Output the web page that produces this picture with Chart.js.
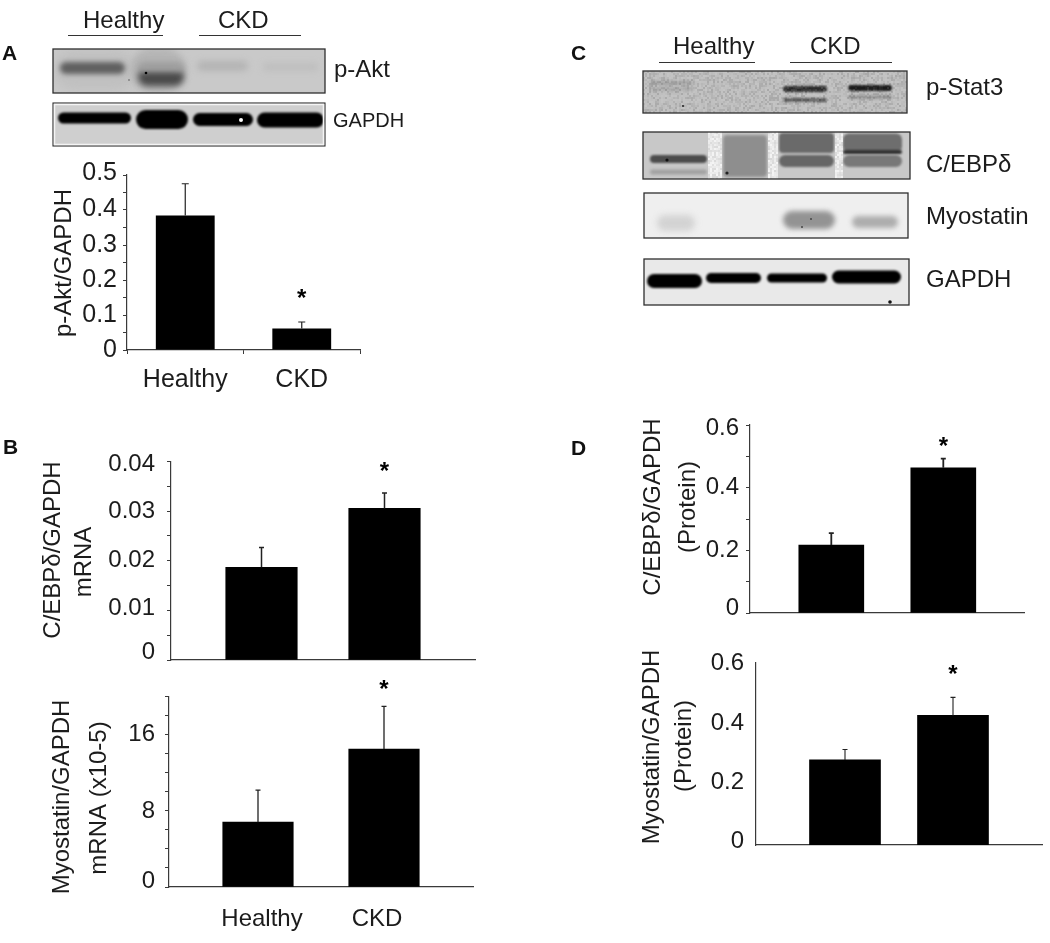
<!DOCTYPE html>
<html>
<head>
<meta charset="utf-8">
<style>
html,body{margin:0;padding:0;background:#fff}
#fig{position:relative;width:1050px;height:943px;overflow:hidden;background:#fff;filter:blur(0.35px)}
#fig canvas{position:absolute}
.t{position:absolute;font-family:"Liberation Sans",Arial,sans-serif;color:#1c1c1c;white-space:pre;line-height:1}
.r{position:absolute;background:#333;height:1px}
</style>
<script src="https://cdn.jsdelivr.net/npm/chart.js@4/dist/chart.umd.js"></script>
</head>
<body>
<div id="fig"><canvas id="blots" width="1050" height="943" style="left:0;top:0"></canvas></div>
<script>
// ---- data ----
const categories = ['Healthy', 'CKD'];

const pAktValues = [0.384, 0.0615];
const pAktErrors = [0.091, 0.0185];
const pAktTickLabels = ['0', '0.1', '0.2', '0.3', '0.4', '0.5'];

const cebpMrnaValues = [0.01866, 0.03053];
const cebpMrnaErrors = [0.0040, 0.0031];
const cebpMrnaTickLabels = ['0', '0.01', '0.02', '0.03', '0.04'];

const mstnMrnaValues = [6.8, 14.48];
const mstnMrnaErrors = [3.37, 4.48];
const mstnMrnaTickLabels = ['0', '8', '16'];

const cebpProteinValues = [0.217, 0.4637];
const cebpProteinErrors = [0.038, 0.0288];
const cebpProteinTickLabels = ['0', '0.2', '0.4', '0.6'];

const mstnProteinValues = [0.2795, 0.4257];
const mstnProteinErrors = [0.0345, 0.0593];
const mstnProteinTickLabels = ['0', '0.2', '0.4', '0.6'];

const FONT = '"Liberation Sans", Arial, sans-serif';
const INK = '#1c1c1c', AXIS = '#3a3a3a';

// ---- panels: layout and styles ----
const panels = [
 { values:pAktValues, errors:pAktErrors, tickLabels:pAktTickLabels, yMax:0.5, step:0.05,
   plot:{left:127,right:360,top:175,bottom:350}, canvas:{left:7,top:150,right:370,bottom:400},
   category:true, barPct:0.505, xLabels:true, xPad:11, tick:4, yPad:6, fontSize:25, capHalf:3.5, errW:1.2,
   star:{categories:[1], value:[0.156]},
   titles:[{text:'p-Akt/GAPDH',x:64,y:263}], yShift:{'0.5':-2,'0.4':-1} },
 { values:cebpMrnaValues, errors:cebpMrnaErrors, tickLabels:cebpMrnaTickLabels, yMax:0.04, step:0.005,
   plot:{left:171,right:475,top:460,bottom:660}, canvas:{left:30,top:435,right:485,bottom:700},
   centers:[261.5,384.5], barW:71.5, tick:4, yPad:12, fontSize:24, capHalf:2.5, errW:1.5,
   star:{categories:[1], value:[0.0386]},
   titles:[{text:'C/EBP\u03b4/GAPDH',x:53,y:550},{text:'mRNA',x:84,y:562}],
   yShift:{'0':-8,'0.01':-2,'0.04':3} },
 { values:mstnMrnaValues, errors:mstnMrnaErrors, tickLabels:mstnMrnaTickLabels, yMax:20, step:2,
   plot:{left:169,right:473,top:695,bottom:887}, canvas:{left:30,top:672,right:485,bottom:940},
   centers:[258,384], barW:70.5, tick:4, yPad:10, fontSize:24, capHalf:2.5, errW:1.3,
   xLabels:true, xPad:10, xShift:[4,-7],
   star:{categories:[1], value:[21.04]},
   titles:[{text:'Myostatin/GAPDH',x:62,y:797},{text:'mRNA (x10-5)',x:99,y:798}],
   yShift:{'0':-6,'8':1} },
 { values:cebpProteinValues, errors:cebpProteinErrors, tickLabels:cebpProteinTickLabels, yMax:0.6, step:0.1,
   plot:{left:750,right:1024,top:425,bottom:613}, canvas:{left:630,top:400,right:1034,bottom:655},
   centers:[831.3,943.3], barW:65, tick:4, yPad:7, fontSize:24, capHalf:2.5, errW:1.8,
   star:{categories:[1], value:[0.5426]},
   titles:[{text:'C/EBP\u03b4/GAPDH',x:653,y:507},{text:'(Protein)',x:688,y:507}],
   yShift:{'0':-5,'0.6':3} },
 { values:mstnProteinValues, errors:mstnProteinErrors, tickLabels:mstnProteinTickLabels, yMax:0.6, step:0.2,
   plot:{left:756,right:1042,top:661,bottom:845}, canvas:{left:630,top:636,right:1050,bottom:885},
   centers:[845,953], barW:71, tick:0, yPad:12, fontSize:24, capHalf:2.5, errW:1.1,
   star:{categories:[1], value:[0.573]},
   titles:[{text:'Myostatin/GAPDH',x:652,y:747},{text:'(Protein)',x:684,y:746}],
   yShift:{'0':-4,'0.2':-2,'0.6':1} }
];

function norm(v){ return String(parseFloat(Number(v).toFixed(4))); }

function extras(p){
 return { id:'extras',
  beforeDraw(chart){
    const y = chart.scales.y, x = chart.scales.x;
    y.getLabelItems().forEach(it=>{
      const s = p.yShift && p.yShift[it.label];
      if (s) it.options.translation[1] += s;
    });
    if (p.xShift && x) x.getLabelItems().forEach((it,i)=>{ it.options.translation[0] += p.xShift[i]||0; });
    p.yShift = null; p.xShift = null;
  },
  afterDatasetsDraw(chart){
    const ctx = chart.ctx, y = chart.scales.y, meta = chart.getDatasetMeta(0);
    ctx.save();
    ctx.strokeStyle = '#222'; ctx.lineWidth = p.errW;
    meta.data.forEach((el,i)=>{
      const y0 = y.getPixelForValue(p.values[i]);
      const y1 = y.getPixelForValue(p.values[i]+p.errors[i]);
      ctx.beginPath();
      ctx.moveTo(el.x,y0); ctx.lineTo(el.x,y1);
      ctx.moveTo(el.x-p.capHalf,y1); ctx.lineTo(el.x+p.capHalf,y1);
      ctx.stroke();
    });
    ctx.fillStyle = '#000'; ctx.textAlign='center'; ctx.textBaseline='alphabetic';
    ctx.font = 'bold 24px '+FONT;
    p.star.categories.forEach((c,i)=>{
      ctx.fillText('*', meta.data[c].x, y.getPixelForValue(p.star.value[i])+11);
    });
    ctx.restore();
  },
  afterDraw(chart){
    const ctx = chart.ctx;
    ctx.save();
    ctx.fillStyle = INK; ctx.font='24px '+FONT; ctx.textAlign='center'; ctx.textBaseline='middle';
    p.titles.forEach(t=>{
      ctx.save();
      ctx.translate(t.x-p.canvas.left, t.y-p.canvas.top);
      ctx.rotate(-Math.PI/2);
      ctx.fillText(t.text,0,0);
      ctx.restore();
    });
    ctx.restore();
  }
 };
}

panels.forEach(p=>{
  const c = document.createElement('canvas');
  const W = p.canvas.right-p.canvas.left, H = p.canvas.bottom-p.canvas.top;
  c.width=W; c.height=H; c.style.left=p.canvas.left+'px'; c.style.top=p.canvas.top+'px';
  c.style.width=W+'px'; c.style.height=H+'px';
  document.getElementById('fig').appendChild(c);
  const tickFont = {family:FONT,size:p.fontSize};
  const spacing = p.centers ? p.centers[1]-p.centers[0] : 0;
  const xScale = p.category ? {
      type:'category', offset:true,
      grid:{display:true,offset:true,drawOnChartArea:false,drawTicks:true,tickLength:4,color:AXIS,tickColor:AXIS},
      border:{display:true,color:AXIS,width:1.2},
      ticks:{color:INK,font:tickFont,padding:p.xPad,maxRotation:0,autoSkip:false}
    } : {
      type:'linear', offset:false,
      min:-(p.centers[0]-p.plot.left)/spacing, max:(p.plot.right-p.centers[0])/spacing,
      grid:{display:false,offset:false},
      border:{display:true,color:AXIS,width:1.2},
      afterBuildTicks:s=>{ s.ticks = categories.map((_,i)=>({value:i})); },
      ticks:{display:!!p.xLabels,color:INK,font:tickFont,padding:p.xPad||0,maxRotation:0,autoSkip:false,
             callback:v=>categories[v]}
    };
  const marginLeft = p.plot.left-p.canvas.left, marginBottom = p.canvas.bottom-p.plot.bottom;
  xScale.afterFit = s=>{ s.height = marginBottom; };
  new Chart(c,{
    type:'bar',
    data:{
      labels:categories,
      datasets:[{
        data:p.category ? p.values : p.values.map((v,i)=>({x:i,y:v})),
        backgroundColor:'#000', borderWidth:0,
        barPercentage:p.barPct||0.9, categoryPercentage:1,
        barThickness:p.barW
      }]
    },
    options:{
      responsive:false, animation:false, devicePixelRatio:1,
      layout:{padding:{left:0,top:p.plot.top-p.canvas.top,right:p.canvas.right-p.plot.right,bottom:0}},
      plugins:{legend:{display:false},tooltip:{enabled:false},title:{display:false}},
      scales:{
        x:xScale,
        y:{ min:0,max:p.yMax, offset:false,
            afterFit:s=>{ s.width=marginLeft; },
            border:{display:true,color:AXIS,width:1.2},
            grid:{display:p.tick>0,drawOnChartArea:false,drawTicks:p.tick>0,tickLength:p.tick,tickColor:AXIS,color:AXIS},
            ticks:{stepSize:p.step,autoSkip:false,color:INK,font:tickFont,padding:p.yPad,
                   callback:v=>p.tickLabels.includes(norm(v))?norm(v):''} }
      }
    },
    plugins:[extras(p)]
  });
});

// ---- text beside the blots and panel letters (x, baseline, size) ----
const fig = document.getElementById('fig');
function txt(s,x,base,size,bold){
  const e=document.createElement('div'); e.className='t'; e.textContent=s;
  e.style.left=x+'px'; e.style.fontSize=size+'px';
  e.style.top=(base-size*0.86+(bold?0.5:2.5))+'px';
  if(bold){e.style.fontWeight='bold';e.style.color='#111';}
  fig.appendChild(e);
}
function rule(x0,x1,y){
  const e=document.createElement('div'); e.className='r';
  e.style.left=x0+'px'; e.style.width=(x1-x0)+'px'; e.style.top=y+'px'; fig.appendChild(e);
}
const panelLetters=[['A',2,59.5],['B',3,454],['C',571,60],['D',571,455]];
panelLetters.forEach(l=>txt(l[0],l[1],l[2],21,true));
const blotText=[['Healthy',83,26,24],['CKD',218,26,24],['p-Akt',334,75,24],['GAPDH',333,125,20],
 ['Healthy',673,52,24],['CKD',810,52,24],['p-Stat3',926,93,24],['C/EBP\u03b4',926,170,24],['Myostatin',926,222,24],['GAPDH',926,285,24]];
blotText.forEach(t=>txt(t[0],t[1],t[2],t[3]));
rule(68,163,35); rule(199,301,35); rule(659,755,62); rule(790,892,62);

// ---- western-blot pictures ----
const g=document.getElementById('blots').getContext('2d');
function hash(x,y){ const s=Math.sin(x*12.9898+y*78.233)*43758.5453; return s-Math.floor(s); }
function blot(x0,y0,x1,y1,bg,bands,opt){
  opt=opt||{};
  g.save();
  g.beginPath(); g.rect(x0,y0,x1-x0,y1-y0); g.clip();
  g.fillStyle=bg; g.fillRect(x0,y0,x1-x0,y1-y0);
  bands.forEach(b=>{
    g.filter='blur('+(b[5]===undefined?1:b[5])+'px)';
    g.fillStyle=b[4];
    g.beginPath();
    g.roundRect(b[0],b[2]-b[3]/2,b[1]-b[0],b[3],Math.min(b[3]/2,b[6]===undefined?b[3]/2:b[6]));
    g.fill();
  });
  g.filter='none';
  if(opt.noise){
    for(let y=y0;y<y1;y+=2)for(let x=x0;x<x1;x+=2){
      const v=hash(x,y);
      g.fillStyle=v>0.5?'rgba(255,255,255,'+(v-0.5)*opt.noise+')':'rgba(0,0,0,'+(0.5-v)*opt.noise+')';
      g.fillRect(x,y,2,2);
    }
  }
  (opt.seps||[]).forEach(s=>{
    for(let y=y0;y<y1;y+=2)for(let x=s[0];x<s[1];x+=2){
      const v=hash(x,y);
      g.fillStyle='rgba(245,245,245,'+(0.35+v*0.65)+')';
      g.fillRect(x,y,2,2);
    }
  });
  (opt.specks||[]).forEach(s=>{
    g.fillStyle=s[3]; g.beginPath(); g.arc(s[0],s[1],s[2],0,7); g.fill();
  });
  g.restore();
  g.strokeStyle='#2e2e2e'; g.lineWidth=opt.lw||1.3;
  g.strokeRect(x0,y0,x1-x0,y1-y0);
}
// x0, x1, centre y, height, colour, blur, radius
blot(53,49,325,93,'#c9c9c9',[
  [54,135,70,40,'#c0c0c0',5],[130,186,70,44,'#b5b5b5',3],
  [60,125,68,12,'#606060',2.5],[138,184,77,18,'#4a4a4a',3],[138,184,67,10,'#a0a0a0',3],
  [197,248,66,10,'#b4b4b4',3],[263,318,67,8,'#bebebe',3]
],{specks:[[146,73,1.3,'#000'],[129,80,0.8,'#555']]});
blot(53,103,325,146,'#cfcfcf',[
  [58,131,118,11,'#000',0.9],[136,188,119.5,19,'#000',0.9],[193,253,119.5,13,'#000',0.9],[257,324,120,15,'#000',0.9]
],{specks:[[241,120,2,'#fff']],lw:1.1});
g.strokeStyle='#f4f4f4'; g.lineWidth=1.5; g.strokeRect(54.5,104.5,269,40);

blot(643,71,907,113,'#bebebe',[
  [650,693,83,4,'#a2a2a2',1.5],[650,693,89,4,'#a8a8a8',1.5],
  [783,827,89,6,'#2e2e2e',1],[783,827,100,4,'#5e5e5e',1],
  [848,892,88,6,'#1e1e1e',1],[848,892,97,3,'#8c8c8c',1]
],{noise:0.22,specks:[[683,106,0.9,'#111']]});
blot(643,132,910,179,'#c8c8c8',[
  [650,707,159,8,'#4c4c4c',1.2],[650,707,172,5,'#a0a0a0',1.5],
  [723,767,156,42,'#8e8e8e',1.5,4],
  [779,834,143,20,'#6a6a6a',1.2,4],[779,834,161,12,'#666',1.2],
  [843,902,143,19,'#6e6e6e',1.2,6],[843,902,152,4,'#303030',1],[843,902,161,12,'#787878',1.2]
],{seps:[[708,722],[768,778],[835,842]],specks:[[667,160,1.6,'#111'],[727,173,1.6,'#222']]});
blot(644,193,908,238,'#efefef',[
  [657,695,223,16,'#d3d3d3',3],[783,835,220,18,'#939393',2.5],[852,898,222,12,'#adadad',2.5]
],{specks:[[811,219,1,'#444'],[802,227,1,'#444']]});
blot(644,259,909,305,'#e9e9e9',[
  [647,702,281,14,'#000',0.9],[706,761,278,10,'#000',0.9],[767,827,278,9,'#000',0.9],[832,901,277,13,'#000',0.9]
],{specks:[[890,302,1.8,'#111']]});
</script>
</body>
</html>
